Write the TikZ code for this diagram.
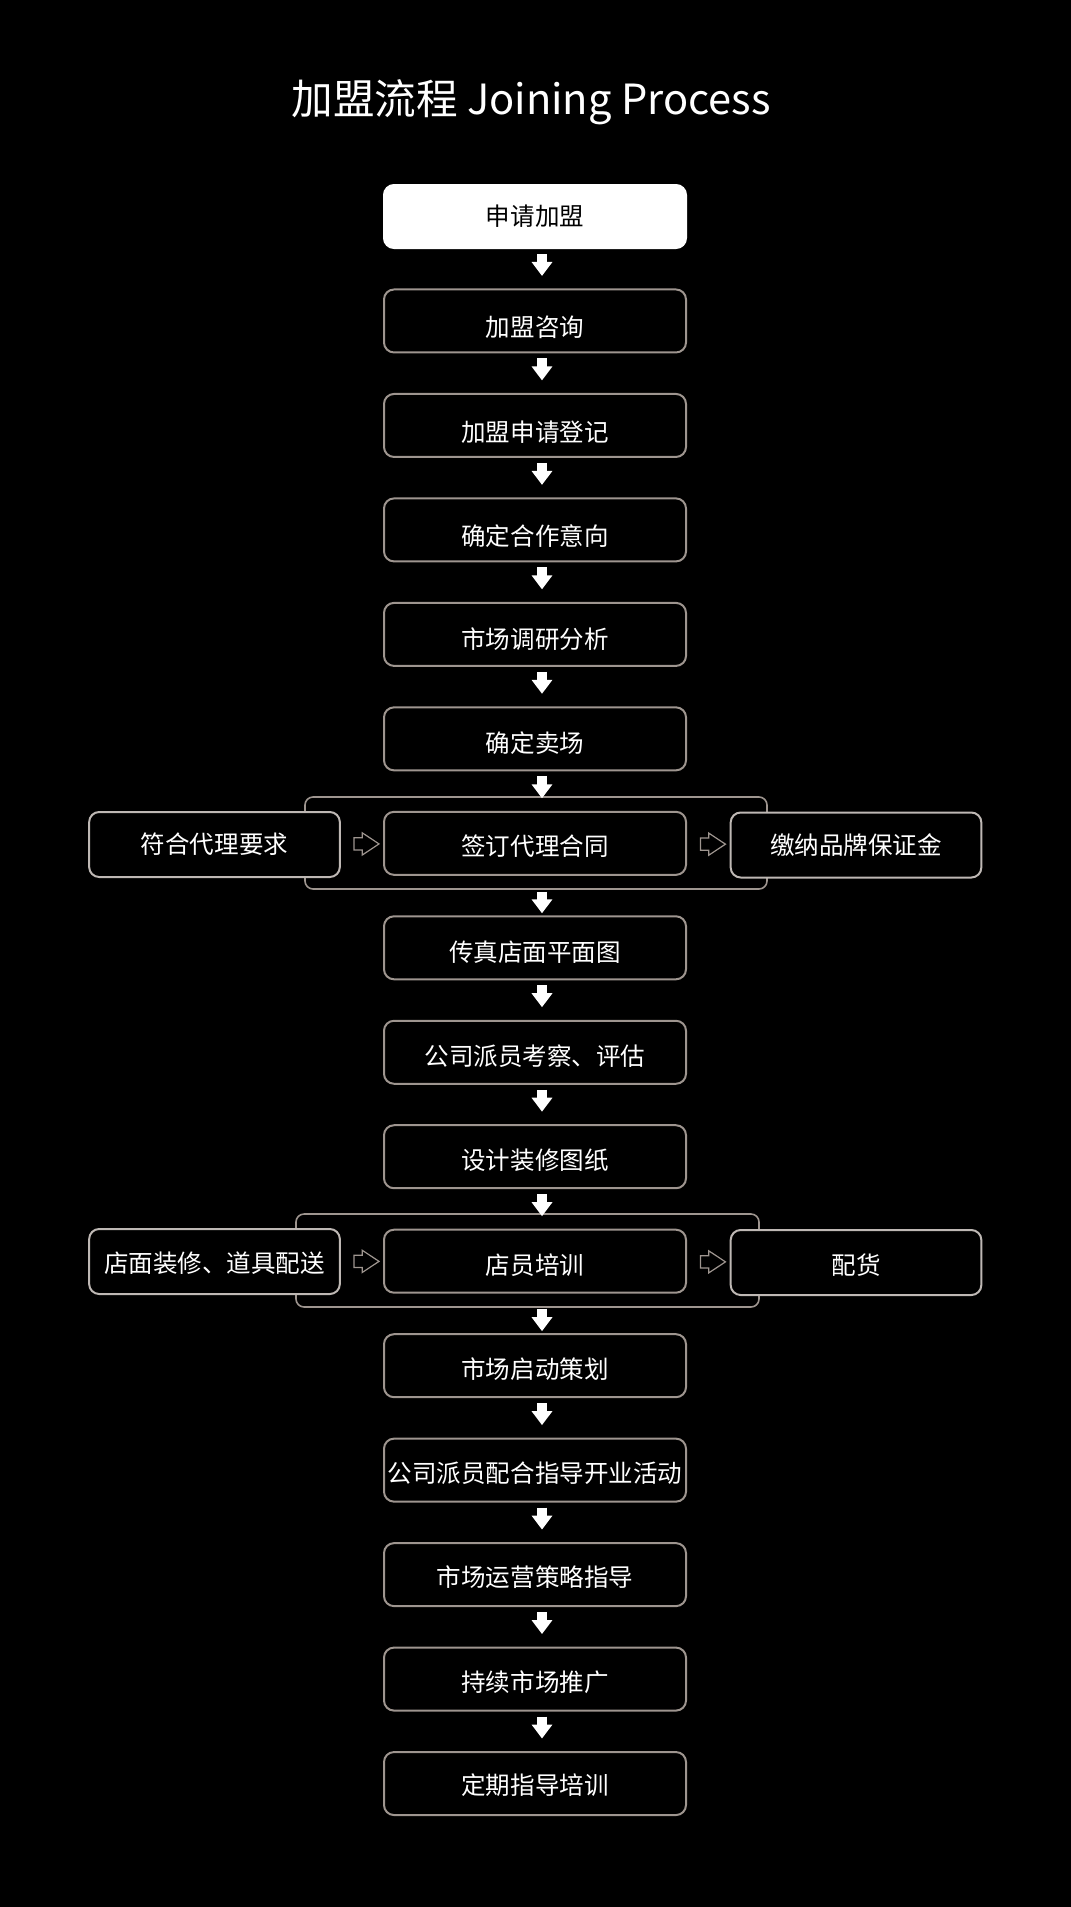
\documentclass[tikz,border=0pt]{standalone}
\usepackage{fontspec}
\setmainfont{Noto Sans CJK SC}
\usetikzlibrary{arrows.meta,shapes.arrows,calc}
\definecolor{edge}{RGB}{158,149,143}
\definecolor{edgelight}{RGB}{190,184,180}
\newcommand\lowr[2]{\raisebox{-#1}[\height][\depth]{#2}}
\tikzset{
  base/.style={rounded corners=7.5pt, line width=1.5pt, inner sep=0pt, align=center,
    font=\fontsize{18.4pt}{22pt}\selectfont},
  mainbox/.style={base, draw=edge, fill=black, text=white, minimum width=226.5pt, minimum height=47.25pt},
  firstbox/.style={base, draw=white, fill=white, text=black, minimum width=226.5pt, minimum height=47.25pt},
  sidebox/.style={base, draw=edgelight, fill=black, text=white, minimum width=188pt, minimum height=48.75pt},
  groupbox/.style={draw=edge, line width=1.2pt, rounded corners=6pt, fill=black},
  blockarrow/.style={white, line width=7.5pt, -{Triangle[width=15pt,length=10.5pt]}},
  hollowarrow/.style={shape=single arrow, draw=edge, fill=black, line width=0.9pt,
    inner xsep=0pt, inner ysep=4.125pt, minimum height=18.75pt,
    single arrow head extend=3.75pt, single arrow tip angle=67},
}
\begin{document}
\begin{tikzpicture}[x=0.75pt,y=-0.75pt]
\fill[black] (0,0) rectangle (1071,1907);
\useasboundingbox (0,0) rectangle (1071,1907);
\node[text=white, font=\fontsize{31.2pt}{36pt}\selectfont] (title) at (531,102.5) {加盟流程 Joining Process};

% group frames
\node[groupbox, minimum width=346.5pt, minimum height=69pt] (g1) at (536,843) {};
\node[groupbox, minimum width=347.25pt, minimum height=69.75pt] (g2) at (527.5,1260.5) {};

% main column
\node[firstbox] (m1) at (535,216.5) {申请加盟};
\node[mainbox] (m2) at (535,320.97) {\lowr{5.1pt}{加盟咨询}};
\node[mainbox] (m3) at (535,425.44) {\lowr{4.8pt}{加盟申请登记}};
\node[mainbox] (m4) at (535,529.91) {\lowr{4.3pt}{确定合作意向}};
\node[mainbox] (m5) at (535,634.38) {\lowr{3.7pt}{市场调研分析}};
\node[mainbox] (m6) at (535,738.85) {\lowr{3.1pt}{确定卖场}};
\node[mainbox] (m7) at (535,843.32) {\lowr{2.4pt}{签订代理合同}};
\node[mainbox] (m8) at (535,947.79) {\lowr{3pt}{传真店面平面图}};
\node[mainbox] (m9) at (535,1052.26) {\lowr{2.85pt}{公司派员考察、评估}};
\node[mainbox] (m10) at (535,1156.73) {\lowr{2.8pt}{设计装修图纸}};
\node[mainbox] (m11) at (535,1261.2) {\lowr{2.85pt}{店员培训}};
\node[mainbox] (m12) at (535,1365.67) {\lowr{2.6pt}{市场启动策划}};
\node[mainbox] (m13) at (535,1470.14) {\lowr{2.25pt}{公司派员配合指导开业活动}};
\node[mainbox] (m14) at (535,1574.61) {\lowr{2pt}{市场运营策略指导}};
\node[mainbox] (m15) at (535,1679.08) {\lowr{1.95pt}{持续市场推广}};
\node[mainbox] (m16) at (535,1783.55) {\lowr{1.3pt}{定期指导培训}};

% side boxes
\node[sidebox] (l7) at (214.5,844.5) {符合代理要求};
\node[sidebox] (r7) at (856,845) {缴纳品牌保证金};
\node[sidebox] (l11) at (214.5,1261.5) {\lowr{1.35pt}{店面装修、道具配送}};
\node[sidebox] (r11) at (856,1262.5) {\lowr{1.9pt}{配货}};

% hollow arrows
\node[hollowarrow] (h1) at ($(l7.east)!0.5!(m7.west)$) {};
\node[hollowarrow] (h2) at ($(m7.east)!0.5!(r7.west)$) {};
\node[hollowarrow] (h3) at ($(l11.east)!0.5!(m11.west)$) {};
\node[hollowarrow] (h4) at ($(m11.east)!0.5!(r11.west)$) {};

% block arrows
\foreach \a/\b in {m1/m2,m2/m3,m3/m4,m4/m5,m5/m6,m6/m7,m8/m9,m9/m10,m10/m11,m12/m13,m13/m14,m14/m15,m15/m16}
  \draw[blockarrow] ([xshift=5.25pt,yshift=-3.75pt]\a.south) -- ([xshift=5.25pt,yshift=9.4pt]\b.north);
\draw[blockarrow] ([xshift=5.25pt,yshift=-12pt]m7.south) -- ([xshift=5.25pt,yshift=1.5pt]m8.north);
\draw[blockarrow] ([xshift=5.25pt,yshift=-11.25pt]m11.south) -- ([xshift=5.25pt,yshift=1.5pt]m12.north);
\end{tikzpicture}
\end{document}
